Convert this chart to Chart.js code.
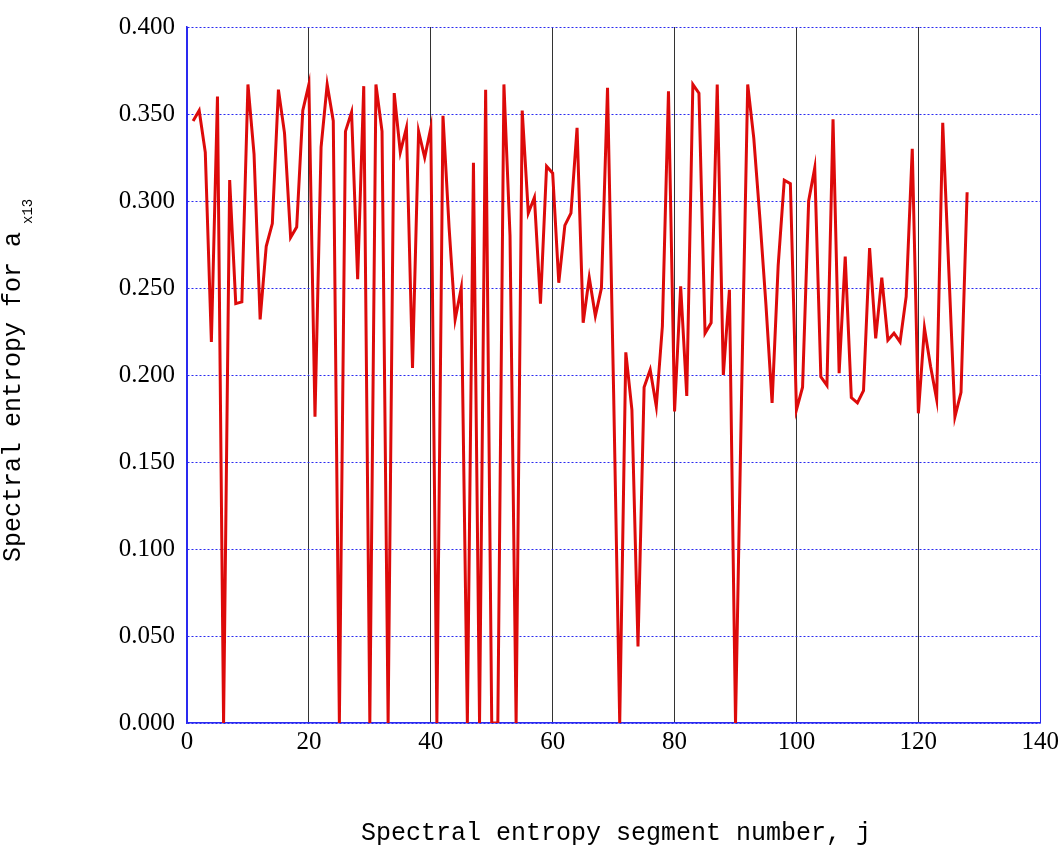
<!DOCTYPE html>
<html>
<head>
<meta charset="utf-8">
<script src="https://cdn.jsdelivr.net/npm/chart.js@4/dist/chart.umd.min.js"></script>
<style>
  html, body { margin: 0; padding: 0; background: #fff; }
  #wrap { width: 1063px; height: 846px; }
</style>
</head>
<body>
<div id="wrap"><canvas id="entropyChart" width="1063" height="846"></canvas></div>
<script>
// segment number j and spectral entropy values
const segments = Array.from({ length: 128 }, (_, i) => i + 1);
const entropy = [
  0.346, 0.352, 0.328, 0.219, 0.360, 0.000, 0.312, 0.241, 0.242, 0.367,
  0.327, 0.232, 0.274, 0.287, 0.364, 0.339, 0.279, 0.285, 0.352, 0.367,
  0.176, 0.331, 0.367, 0.346, 0.000, 0.340, 0.351, 0.255, 0.366, 0.000,
  0.367, 0.340, 0.000, 0.362, 0.328, 0.342, 0.204, 0.340, 0.325, 0.342,
  0.000, 0.349, 0.285, 0.232, 0.250, 0.000, 0.322, 0.000, 0.364, 0.000,
  0.000, 0.367, 0.280, 0.000, 0.352, 0.293, 0.302, 0.241, 0.320, 0.316,
  0.253, 0.286, 0.293, 0.342, 0.230, 0.256, 0.234, 0.250, 0.365, 0.190,
  0.000, 0.213, 0.180, 0.044, 0.193, 0.203, 0.182, 0.228, 0.363, 0.179,
  0.251, 0.188, 0.367, 0.362, 0.224, 0.230, 0.367, 0.200, 0.249, 0.000,
  0.190, 0.367, 0.336, 0.290, 0.240, 0.184, 0.263, 0.312, 0.310, 0.180,
  0.193, 0.300, 0.319, 0.199, 0.194, 0.347, 0.201, 0.268, 0.187, 0.184,
  0.191, 0.273, 0.221, 0.256, 0.220, 0.224, 0.219, 0.245, 0.330, 0.178,
  0.227, 0.205, 0.186, 0.345, 0.260, 0.176, 0.190, 0.305,
];
const xTitle = 'Spectral entropy segment number, j';
const yTitle = 'Spectral entropy for a';
const ySub = 'x13';

// axis titles drawn by hand so the subscript can sit lower and smaller
const axisTitles = {
  id: 'axisTitles',
  afterDraw(chart) {
    const { ctx } = chart;
    ctx.save();
    ctx.fillStyle = '#000';
    ctx.textBaseline = 'alphabetic';
    ctx.font = '25px "Liberation Mono", "DejaVu Sans Mono", monospace';
    ctx.textAlign = 'center';
    ctx.fillText(xTitle, 616, 840);
    ctx.translate(20, 562);
    ctx.rotate(-Math.PI / 2);
    ctx.textAlign = 'left';
    ctx.fillText(yTitle, 0, 0);
    const w = ctx.measureText(yTitle).width;
    ctx.font = '14px "Liberation Mono", "DejaVu Sans Mono", monospace';
    ctx.fillText(ySub, w + 8, 12);
    ctx.restore();
  },
};

Chart.defaults.font.family = '"Liberation Serif", "Times New Roman", serif';
Chart.defaults.font.size = 25;
Chart.defaults.color = '#000';

new Chart(document.getElementById('entropyChart'), {
  type: 'line',
  data: {
    datasets: [{
      data: segments.map((j, i) => ({ x: j, y: entropy[i] })),
      borderColor: '#dd0a0a',
      borderWidth: 3,
      pointRadius: 0,
      tension: 0,
      fill: false,
    }],
  },
  options: {
    responsive: false,
    animation: false,
    layout: { padding: { top: 13, right: 20, left: 0, bottom: 0 } },
    plugins: { legend: { display: false }, tooltip: { enabled: false } },
    scales: {
      x: {
        type: 'linear',
        min: 0,
        max: 140,
        ticks: { stepSize: 20, padding: 4 },
        border: { color: '#2a2af0', width: 1.5 },
        grid: {
          color: (c) => (c.tick.value === 0 || c.tick.value === 140 ? '#2a2af0' : '#333'),
          lineWidth: 1,
          drawTicks: false,
        },
        afterFit(axis) { axis.height = 123; },
      },
      y: {
        min: 0,
        max: 0.4,
        ticks: { stepSize: 0.05, padding: 12, callback: (v) => v.toFixed(3) },
        border: { color: '#2a2af0', width: 1.5, dash: [2, 2] },
        grid: { color: '#2a2af0', lineWidth: 1, drawTicks: false },
        afterFit(axis) { axis.width = 187; },
      },
    },
  },
  plugins: [axisTitles, {
    id: 'dashedGrid',
    beforeDraw(chart) {
      chart.options.scales.x.grid.tickBorderDash = [2, 2];
    },
  }],
});
</script>
</body>
</html>
